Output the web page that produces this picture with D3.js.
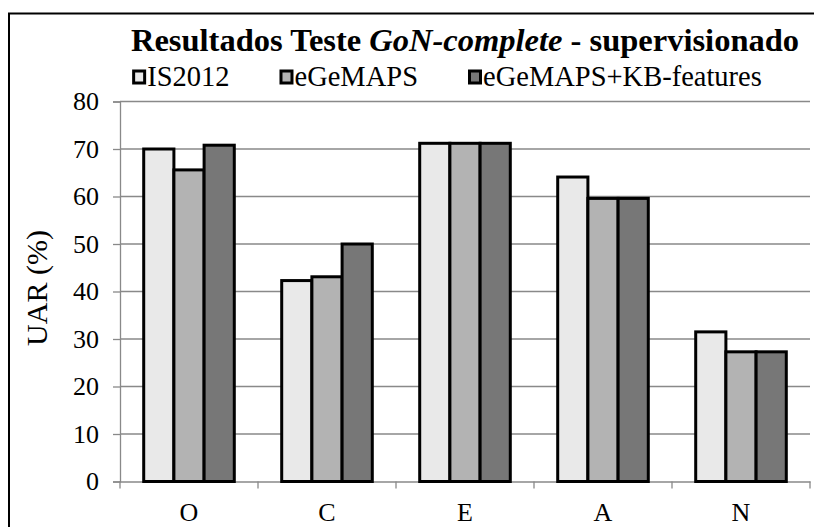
<!DOCTYPE html>
<html>
<head>
<meta charset="utf-8">
<script src="https://cdn.jsdelivr.net/npm/d3@7"></script>
<style>
  body { margin: 0; background: #fff; }
  svg { display: block; }
  text { font-family: "Liberation Serif", "Times New Roman", serif; fill: #000; }
</style>
</head>
<body>
<svg id="chart" width="814" height="527"></svg>
<script>
const categories = ["O", "C", "E", "A", "N"];
const series_names = ["IS2012", "eGeMAPS", "eGeMAPS+KB-features"];
const is2012 = [70.0, 42.3, 71.2, 64.1, 31.5];
const egemaps = [65.6, 43.1, 71.2, 59.6, 27.3];
const egemaps_kb = [70.8, 50.0, 71.2, 59.6, 27.3];
const y_ticks = [0, 10, 20, 30, 40, 50, 60, 70, 80];

const serif = "'Liberation Serif', 'Times New Roman', serif";
const plot = {left: 120, right: 810, top: 101.5, bottom: 481.5};
const colors = ["#e9e9e9", "#b3b3b3", "#777777"];
const grid_color = "#898989";

const svg = d3.select("#chart");

// outer frame (clipped by the page on right/bottom)
svg.append("rect")
  .attr("x", 9).attr("y", 13.5)
  .attr("width", 830).attr("height", 540)
  .attr("fill", "none").attr("stroke", "#000").attr("stroke-width", 2);

const values = [is2012, egemaps, egemaps_kb];
const rows = categories.map((c, i) => ({cat: c, vals: values.map(v => v[i])}));

const x0 = d3.scaleBand().domain(categories).range([plot.left, plot.right]);
const x1 = d3.scaleBand().domain(series_names).range([0, x0.bandwidth()]).paddingOuter(0.785);
const y = d3.scaleLinear().domain([0, 80]).range([plot.bottom, plot.top]);

// gridlines
svg.append("g")
  .selectAll("line")
  .data(y_ticks.filter(t => t > 0))
  .enter().append("line")
    .attr("x1", plot.left).attr("x2", plot.right)
    .attr("y1", d => y(d)).attr("y2", d => y(d))
    .attr("stroke", grid_color).attr("stroke-width", 1.3);

// y axis
const yAxis = svg.append("g")
  .attr("transform", `translate(${plot.left},0)`)
  .call(d3.axisLeft(y).tickValues(y_ticks).tickSize(7).tickPadding(14));
yAxis.select(".domain").attr("stroke", grid_color).attr("stroke-width", 1.3);
yAxis.selectAll(".tick line").attr("stroke", grid_color).attr("stroke-width", 1.3);
yAxis.selectAll(".tick text")
  .style("font-size", "26px")
  .style("font-family", serif)
  .attr("fill", "#000");

// x axis
const xAxis = svg.append("g")
  .attr("transform", `translate(0,${plot.bottom})`)
  .call(d3.axisBottom(x0).tickSize(0));
xAxis.select(".domain").attr("stroke", grid_color).attr("stroke-width", 1.3);
xAxis.selectAll(".tick text")
  .attr("y", 39).attr("dy", 0)
  .style("font-size", "26px")
  .style("font-family", serif)
  .attr("fill", "#000");
// category boundary ticks
svg.append("g")
  .selectAll("line")
  .data(d3.range(categories.length + 1))
  .enter().append("line")
    .attr("x1", i => plot.left + i * x0.step())
    .attr("x2", i => plot.left + i * x0.step())
    .attr("y1", plot.bottom).attr("y2", plot.bottom + 7)
    .attr("stroke", grid_color).attr("stroke-width", 1.3);

// bars
const groups = svg.append("g")
  .selectAll("g")
  .data(rows)
  .enter().append("g")
    .attr("transform", d => `translate(${x0(d.cat)},0)`);
groups.selectAll("rect")
  .data(d => d.vals.map((v, s) => ({name: series_names[s], v, s})))
  .enter().append("rect")
    .attr("x", d => x1(d.name))
    .attr("width", x1.bandwidth())
    .attr("y", d => y(d.v))
    .attr("height", d => y(0) - y(d.v))
    .attr("fill", d => colors[d.s])
    .attr("stroke", "#000")
    .attr("stroke-width", 3);

// y label
svg.append("text")
  .attr("transform", `translate(47,288) rotate(-90)`)
  .attr("text-anchor", "middle")
  .style("font-size", "30px")
  .text("UAR (%)");

// title
const title = svg.append("text")
  .attr("x", (plot.left + plot.right) / 2)
  .attr("y", 51)
  .attr("text-anchor", "middle")
  .style("font-size", "32.5px")
  .style("font-weight", "bold");
title.append("tspan").text("Resultados Teste ");
title.append("tspan").style("font-style", "italic").text("GoN-complete");
title.append("tspan").text(" - supervisionado");

// legend, laid out centred
const legend_center = 447;
const legend = svg.append("g").attr("transform", "translate(0,86)");
const items = legend.selectAll("g")
  .data(series_names)
  .enter().append("g");
items.append("rect")
  .attr("x", 1.5).attr("y", -15)
  .attr("width", 11).attr("height", 12)
  .attr("fill", (d, i) => colors[i])
  .attr("stroke", "#000").attr("stroke-width", 3);
items.append("text")
  .attr("x", 15).attr("y", 0)
  .style("font-size", "28.5px")
  .text(d => d);
const item_gap = 50;
const widths = [];
items.each(function() { widths.push(15 + d3.select(this).select("text").node().getComputedTextLength()); });
const total = d3.sum(widths) + item_gap * (widths.length - 1);
let cursor = legend_center - total / 2;
items.attr("transform", (d, i) => {
  const t = `translate(${cursor},0)`;
  cursor += widths[i] + item_gap;
  return t;
});
</script>
</body>
</html>
